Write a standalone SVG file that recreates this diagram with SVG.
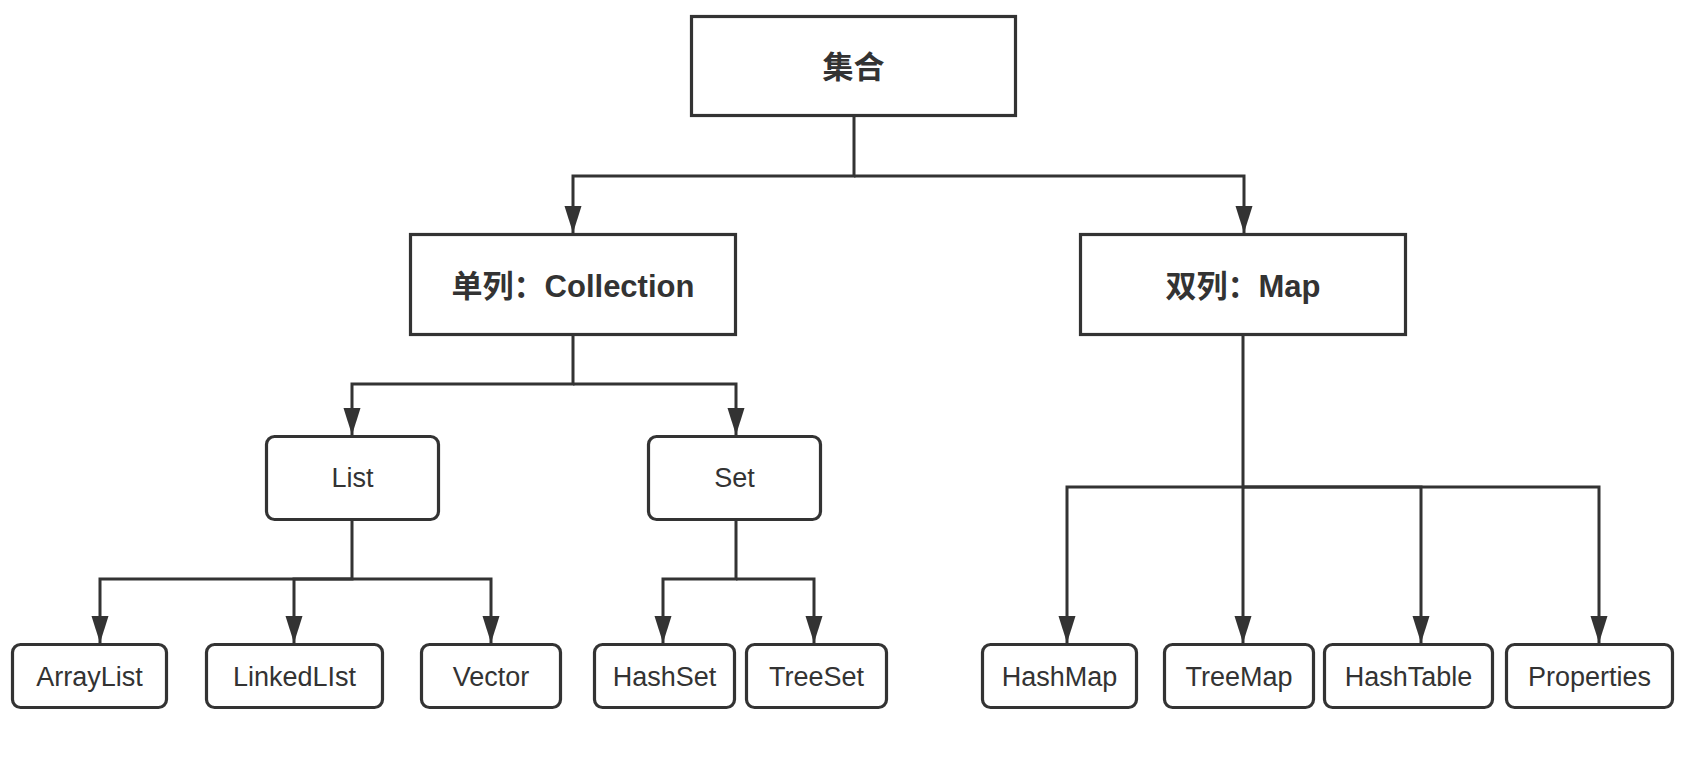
<svg xmlns="http://www.w3.org/2000/svg" width="1690" height="780" viewBox="0 0 1690 780">
<defs>
<marker id="arr" markerUnits="userSpaceOnUse" markerWidth="28" markerHeight="18" refX="27" refY="8.5" orient="auto">
<path d="M0,0 L27,8.5 L0,17 z" fill="#333333"/>
</marker>
<style>
.box{fill:#ffffff;stroke:#333333;stroke-width:3.2}
.big{font-family:"Liberation Sans","Noto Sans CJK SC",sans-serif;font-weight:bold;font-size:31px;fill:#333333;text-anchor:middle}
.sm{font-family:"Liberation Sans","Noto Sans CJK SC",sans-serif;font-size:27px;fill:#333333;text-anchor:middle}
.edge{fill:none;stroke:#333333;stroke-width:3;marker-end:url(#arr)}
</style>
</defs>
<rect width="1690" height="780" fill="#ffffff"/>
<g id="connectors">
<path class="edge" d="M854 117 V176 H573 V233"/>
<path class="edge" d="M854 176 H1244 V233"/>
<path class="edge" d="M573 336 V384 H352 V435"/>
<path class="edge" d="M573 384 H736 V435"/>
<path class="edge" d="M352 521 V579 H100 V643"/>
<path class="edge" d="M352 579 H294 V643"/>
<path class="edge" d="M352 579 H491 V643"/>
<path class="edge" d="M736 521 V579 H663 V643"/>
<path class="edge" d="M736 579 H814 V643"/>
<path class="edge" d="M1243 336 V487 H1067 V643"/>
<path class="edge" d="M1243 487 V643"/>
<path class="edge" d="M1243 487 H1421 V643"/>
<path class="edge" d="M1243 487 H1599 V643"/>
</g>
<g id="n-root"><rect class="box" x="691.5" y="16.5" width="324" height="99"/><text class="big" x="853.5" y="78">集合</text></g>
<g id="n-collection"><rect class="box" x="410.5" y="234.5" width="325" height="100"/><text class="big" x="573" y="297">单列：Collection</text></g>
<g id="n-map"><rect class="box" x="1080.5" y="234.5" width="325" height="100"/><text class="big" x="1243" y="297">双列：Map</text></g>
<g id="n-list"><rect class="box" x="266.5" y="436.5" width="172" height="83" rx="8"/><text class="sm" x="352.5" y="487">List</text></g>
<g id="n-set"><rect class="box" x="648.5" y="436.5" width="172" height="83" rx="8"/><text class="sm" x="734.5" y="487">Set</text></g>
<g id="n-arraylist"><rect class="box" x="12.5" y="644.5" width="154" height="63" rx="8"/><text class="sm" x="89.5" y="686">ArrayList</text></g>
<g id="n-linkedlist"><rect class="box" x="206.5" y="644.5" width="176" height="63" rx="8"/><text class="sm" x="294.5" y="686">LinkedLIst</text></g>
<g id="n-vector"><rect class="box" x="421.5" y="644.5" width="139" height="63" rx="8"/><text class="sm" x="491" y="686">Vector</text></g>
<g id="n-hashset"><rect class="box" x="594.5" y="644.5" width="140" height="63" rx="8"/><text class="sm" x="664.5" y="686">HashSet</text></g>
<g id="n-treeset"><rect class="box" x="746.5" y="644.5" width="140" height="63" rx="8"/><text class="sm" x="816.5" y="686">TreeSet</text></g>
<g id="n-hashmap"><rect class="box" x="982.5" y="644.5" width="154" height="63" rx="8"/><text class="sm" x="1059.5" y="686">HashMap</text></g>
<g id="n-treemap"><rect class="box" x="1164.5" y="644.5" width="149" height="63" rx="8"/><text class="sm" x="1239" y="686">TreeMap</text></g>
<g id="n-hashtable"><rect class="box" x="1324.5" y="644.5" width="168" height="63" rx="8"/><text class="sm" x="1408.5" y="686">HashTable</text></g>
<g id="n-properties"><rect class="box" x="1506.5" y="644.5" width="166" height="63" rx="8"/><text class="sm" x="1589.5" y="686">Properties</text></g>
</svg>
